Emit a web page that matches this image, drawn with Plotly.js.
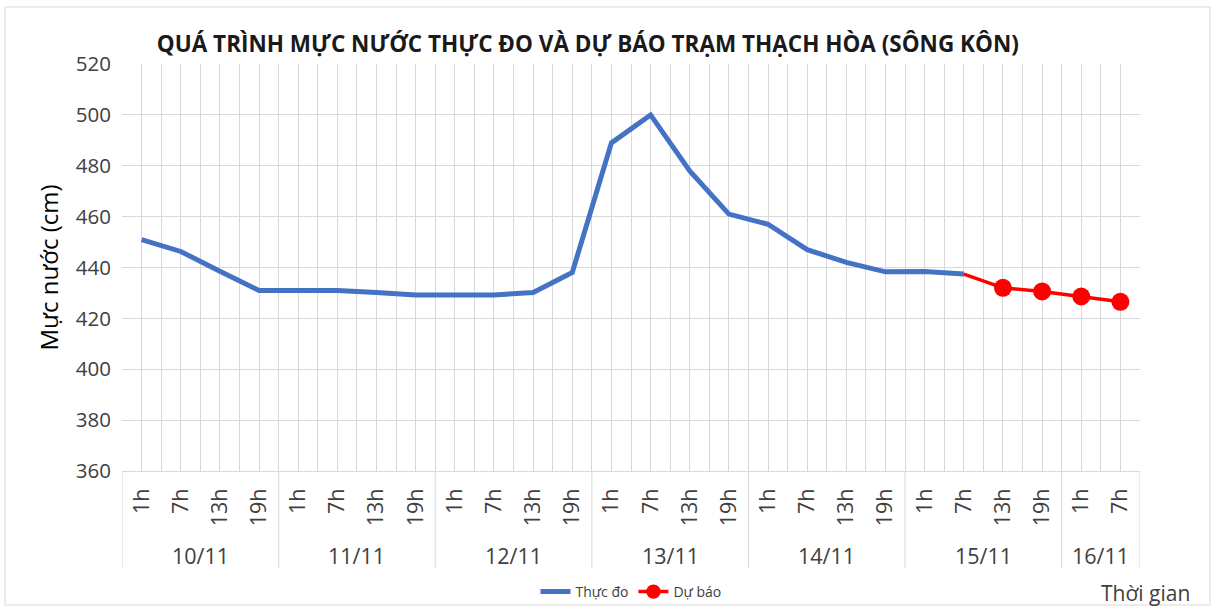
<!DOCTYPE html>
<html>
<head>
<meta charset="utf-8">
<script src="https://cdn.plot.ly/plotly-3.0.1.min.js"></script>
<style>
  html, body { margin: 0; padding: 0; background: #ffffff; }
  #chart { width: 1212px; height: 610px; }
</style>
</head>
<body>
<div id="chart"></div>
<script>
// Categories (outer level = date, inner level = hour)
const dateLabels = [
  '10/11','10/11','10/11','10/11',
  '11/11','11/11','11/11','11/11',
  '12/11','12/11','12/11','12/11',
  '13/11','13/11','13/11','13/11',
  '14/11','14/11','14/11','14/11',
  '15/11','15/11','15/11','15/11',
  '16/11','16/11'
];
const hourLabels = [
  '1h','7h','13h','19h',
  '1h','7h','13h','19h',
  '1h','7h','13h','19h',
  '1h','7h','13h','19h',
  '1h','7h','13h','19h',
  '1h','7h','13h','19h',
  '1h','7h'
];

// Observed water level (cm): 10/11 1h .. 15/11 7h
const observed = [
  451, 446.3, 438.5, 431,
  431, 431, 430.2, 429.2,
  429.2, 429.2, 430.2, 438,
  489, 500, 478, 461,
  457, 447, 442, 438.3,
  438.4, 437.4
];
// Forecast (cm): 15/11 7h .. 16/11 7h (starts at the last observed time)
const forecast = [437.4, 432, 430.6, 428.6, 426.5];

const nCat = hourLabels.length;
const nObs = observed.length;
const catIdx = hourLabels.map((_, i) => i);
const obsX = catIdx.slice(0, nObs);
const fcX = catIdx.slice(nObs - 1, nObs - 1 + forecast.length);

// date groups (first / last category index of each date)
const groups = [];
dateLabels.forEach((d, i) => {
  const g = groups[groups.length - 1];
  if (g && g.label === d) g.last = i; else groups.push({ label: d, first: i, last: i });
});

const font = "'Open Sans', 'DejaVu Sans', sans-serif";
const grid = '#d9d9d9';
const textCol = '#404040';

// plot area geometry (px) used to place out-of-plot items in paper units
const W = 1212, H = 610;
const plotTop = 64, plotBottom = 471, plotLeft = 122, plotRight = 1140;
const pH = plotBottom - plotTop, pW = plotRight - plotLeft;
const py = (pix) => (plotBottom - pix) / pH;
const px = (pix) => (pix - plotLeft) / pW;

const traces = [
  {
    type: 'scatter', mode: 'lines', name: 'Thực đo',
    x: obsX, y: observed,
    line: { color: '#4472C4', width: 5 }
  },
  {
    type: 'scatter', mode: 'lines+markers', name: 'Dự báo',
    x: fcX, y: forecast,
    line: { color: '#FF0000', width: 3.5 },
    marker: { color: '#FF0000', opacity: 1, line: { width: 0 },
              size: forecast.map((v, i) => i === 0 ? 0 : 18) }
  }
];

const dateAnnotations = groups.map(g => ({
  text: g.label, showarrow: false,
  xref: 'x', x: (g.first + g.last) / 2, xanchor: 'center',
  yref: 'paper', y: py(555), yanchor: 'middle',
  font: { family: font, size: 21.5, color: textCol }
}));

const dividerPos = groups.map(g => g.first - 0.5).concat([groups[groups.length - 1].last + 0.5]);
const dividers = dividerPos.map(xv => ({
  type: 'line', xref: 'x', yref: 'paper',
  x0: xv, x1: xv, y0: 0, y1: py(568),
  line: { color: grid, width: 1 }
}));

const layout = {
  width: W, height: H,
  margin: { l: plotLeft, r: W - plotRight, t: plotTop, b: H - plotBottom, autoexpand: false },
  paper_bgcolor: '#ffffff', plot_bgcolor: '#ffffff',
  font: { family: font, color: '#595959' },
  title: {
    text: '<b>QUÁ TRÌNH MỰC NƯỚC THỰC ĐO VÀ DỰ BÁO TRẠM THẠCH HÒA (SÔNG KÔN)</b>',
    font: { family: font, size: 22.5, color: '#1a1a1a' },
    xref: 'container', x: 0.485, xanchor: 'center',
    yref: 'container', y: 1 - 44 / H, yanchor: 'middle'
  },
  xaxis: {
    type: 'linear',
    automargin: false,
    range: [-0.5, nCat - 0.5],
    tickmode: 'array', tickvals: catIdx, ticktext: hourLabels,
    tickangle: -90,
    tickfont: { family: font, size: 21.5, color: textCol },
    ticklabelstandoff: 8,
    ticks: '',
    showgrid: true, gridcolor: grid, gridwidth: 1,
    minor: { tick0: -0.5, dtick: 1, showgrid: true, gridcolor: grid, gridwidth: 1, ticks: '' },
    showline: true, linecolor: grid, linewidth: 1,
    zeroline: false
  },
  yaxis: {
    automargin: false,
    range: [360, 520], dtick: 20,
    gridcolor: grid, gridwidth: 1,
    zeroline: false, showline: false, ticks: '',
    tickfont: { family: font, size: 20.5, color: textCol },
    ticklabelstandoff: 10,
    title: { text: 'Mực nước (cm)', font: { family: font, size: 24, color: '#000000' }, standoff: 10 }
  },
  legend: {
    orientation: 'h',
    xref: 'paper', x: 0.5, xanchor: 'center',
    yref: 'container', y: 1 - 592 / H, yanchor: 'middle',
    font: { family: font, size: 14, color: textCol },
    bgcolor: 'rgba(0,0,0,0)'
  },
  annotations: dateAnnotations.concat([
    {
      text: 'Thời gian', showarrow: false,
      xref: 'paper', x: px(1192), xanchor: 'right',
      yref: 'paper', y: py(593), yanchor: 'middle',
      font: { family: font, size: 21, color: textCol }
    }
  ]),
  shapes: dividers.concat([
    {
      type: 'rect', xref: 'paper', yref: 'paper', layer: 'below',
      x0: px(5), x1: px(1210), y0: py(605), y1: py(7),
      line: { color: grid, width: 1 }, fillcolor: 'rgba(0,0,0,0)'
    }
  ]),
  showlegend: true
};

Plotly.newPlot('chart', traces, layout, { displayModeBar: false, staticPlot: true });
</script>
</body>
</html>
